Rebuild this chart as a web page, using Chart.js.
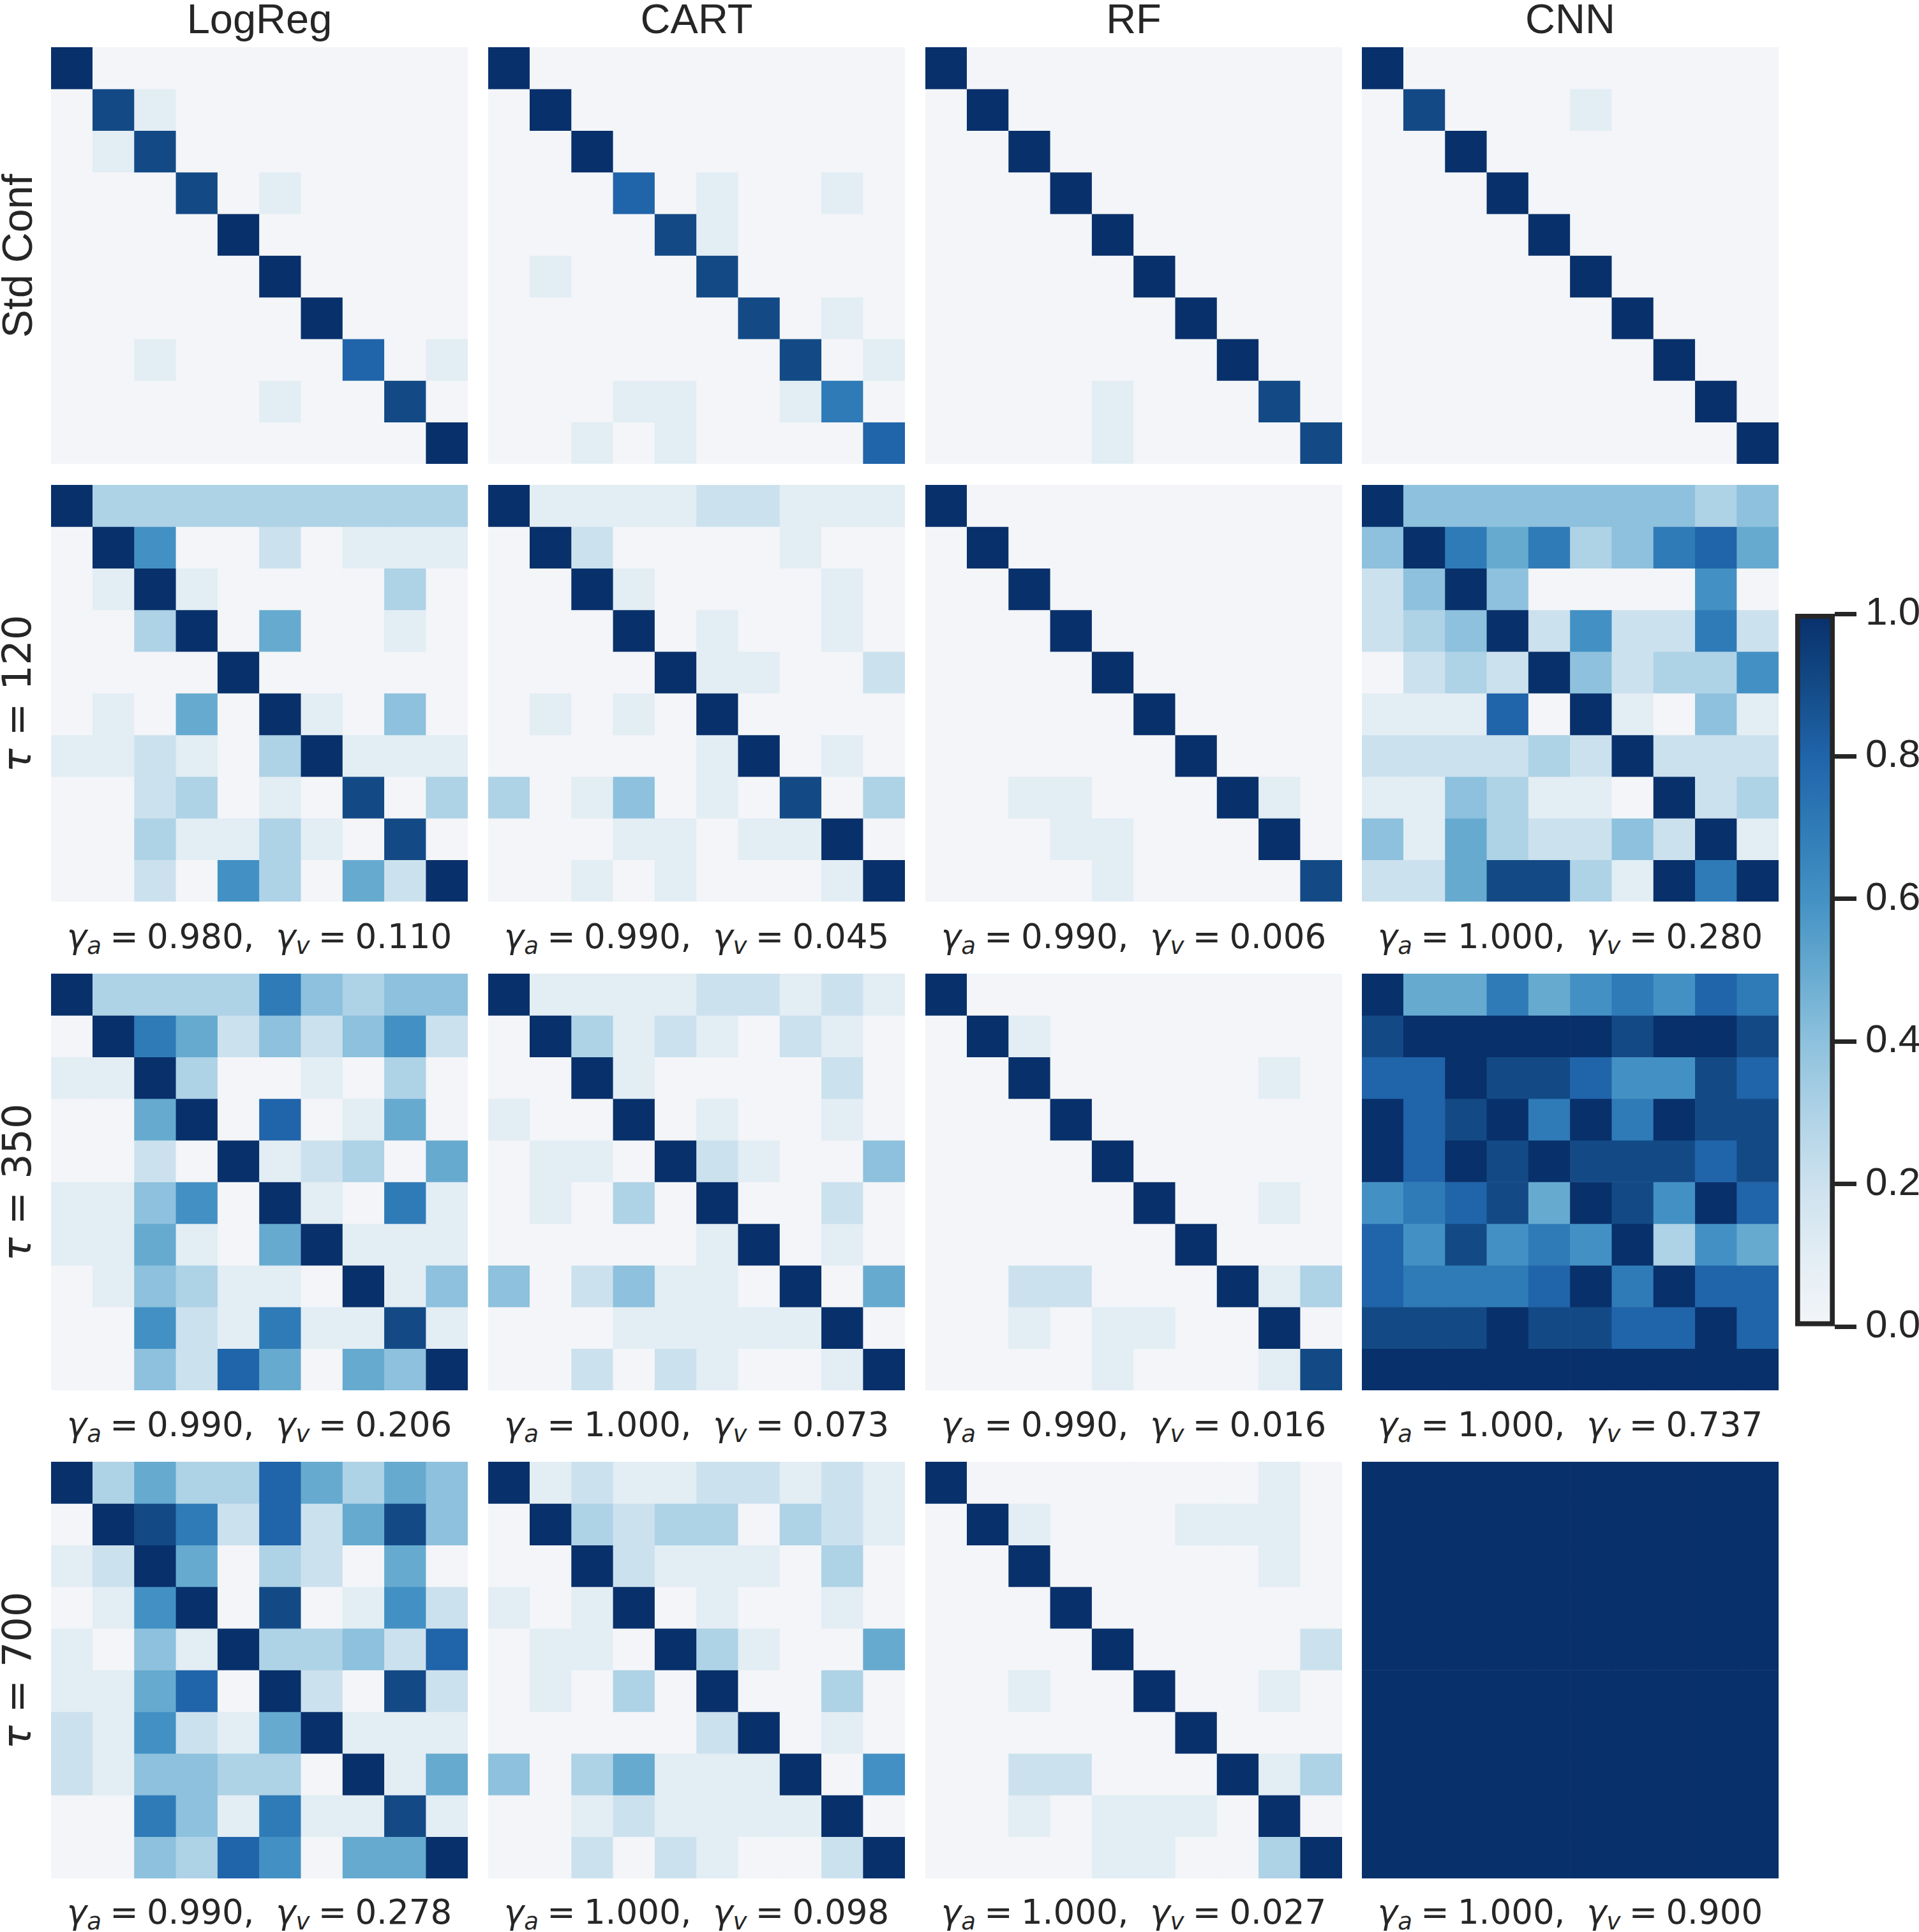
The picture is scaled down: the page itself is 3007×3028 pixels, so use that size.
<!DOCTYPE html>
<html><head><meta charset="utf-8">
<script src="https://cdn.jsdelivr.net/npm/chart.js@4.4.1/dist/chart.umd.min.js"></script>
<style>
html,body{margin:0;padding:0;background:#fff;}
#root{position:relative;width:3007px;height:3028px;overflow:hidden;background:#fff;}
canvas{position:absolute;display:block;}
.ttl{position:absolute;font-family:'Liberation Sans',Arial,sans-serif;font-size:65px;line-height:65px;height:65px;color:#262626;text-align:center;white-space:nowrap;}
.rl{position:absolute;color:#262626;text-align:center;white-space:nowrap;transform:rotate(-90deg);transform-origin:50% 50%;}
.rl.std{font-family:'Liberation Sans',Arial,sans-serif;font-size:66px;line-height:66px;height:66px;}
.rl.tau{font-family:'DejaVu Sans',sans-serif;font-size:62px;line-height:66px;height:66px;}
.sub{position:absolute;font-family:'DejaVu Sans',sans-serif;font-size:53px;line-height:70px;height:70px;color:#262626;text-align:center;white-space:nowrap;}
.sub sub{font-size:70%;vertical-align:-0.25em;line-height:0;}
</style></head><body><div id="root"></div>
<script>
// ---------------- data ----------------
const MODELS = ['LogReg', 'CART', 'RF', 'CNN'];
const ROW_NAMES = ['Std Conf', '120', '350', '700'];   // row 0 plain label, others are tau values

const logreg_std = [
 [1,0,0,0,0,0,0,0,0,0],
 [0,.9,.1,0,0,0,0,0,0,0],
 [0,.1,.9,0,0,0,0,0,0,0],
 [0,0,0,.9,0,.1,0,0,0,0],
 [0,0,0,0,1,0,0,0,0,0],
 [0,0,0,0,0,1,0,0,0,0],
 [0,0,0,0,0,0,1,0,0,0],
 [0,0,.1,0,0,0,0,.8,0,.1],
 [0,0,0,0,0,.1,0,0,.9,0],
 [0,0,0,0,0,0,0,0,0,1]];
const cart_std = [
 [1,0,0,0,0,0,0,0,0,0],
 [0,1,0,0,0,0,0,0,0,0],
 [0,0,1,0,0,0,0,0,0,0],
 [0,0,0,.8,0,.1,0,0,.1,0],
 [0,0,0,0,.9,.1,0,0,0,0],
 [0,.1,0,0,0,.9,0,0,0,0],
 [0,0,0,0,0,0,.9,0,.1,0],
 [0,0,0,0,0,0,0,.9,0,.1],
 [0,0,0,.1,.1,0,0,.1,.7,0],
 [0,0,.1,0,.1,0,0,0,0,.8]];
const rf_std = [
 [1,0,0,0,0,0,0,0,0,0],
 [0,1,0,0,0,0,0,0,0,0],
 [0,0,1,0,0,0,0,0,0,0],
 [0,0,0,1,0,0,0,0,0,0],
 [0,0,0,0,1,0,0,0,0,0],
 [0,0,0,0,0,1,0,0,0,0],
 [0,0,0,0,0,0,1,0,0,0],
 [0,0,0,0,0,0,0,1,0,0],
 [0,0,0,0,.1,0,0,0,.9,0],
 [0,0,0,0,.1,0,0,0,0,.9]];
const cnn_std = [
 [1,0,0,0,0,0,0,0,0,0],
 [0,.9,0,0,0,.1,0,0,0,0],
 [0,0,1,0,0,0,0,0,0,0],
 [0,0,0,1,0,0,0,0,0,0],
 [0,0,0,0,1,0,0,0,0,0],
 [0,0,0,0,0,1,0,0,0,0],
 [0,0,0,0,0,0,1,0,0,0],
 [0,0,0,0,0,0,0,1,0,0],
 [0,0,0,0,0,0,0,0,1,0],
 [0,0,0,0,0,0,0,0,0,1]];

const logreg_120 = [
 [1,.3,.3,.3,.3,.3,.3,.3,.3,.3],
 [0,1,.6,0,0,.2,0,.1,.1,.1],
 [0,.1,1,.1,0,0,0,0,.3,0],
 [0,0,.3,1,0,.5,0,0,.1,0],
 [0,0,0,0,1,0,0,0,0,0],
 [0,.1,0,.5,0,1,.1,0,.4,0],
 [.1,.1,.2,.1,0,.3,1,.1,.1,.1],
 [0,0,.2,.3,0,.1,0,.9,0,.3],
 [0,0,.3,.1,.1,.3,.1,0,.9,0],
 [0,0,.2,0,.6,.3,0,.5,.2,1]];
const cart_120 = [
 [1,.1,.1,.1,.1,.2,.2,.1,.1,.1],
 [0,1,.2,0,0,0,0,.1,0,0],
 [0,0,1,.1,0,0,0,0,.1,0],
 [0,0,0,1,0,.1,0,0,.1,0],
 [0,0,0,0,1,.1,.1,0,0,.2],
 [0,.1,0,.1,0,1,0,0,0,0],
 [0,0,0,0,0,.1,1,0,.1,0],
 [.3,0,.1,.4,0,.1,0,.9,0,.3],
 [0,0,0,.1,.1,0,.1,.1,1,0],
 [0,0,.1,0,.1,0,0,0,.1,1]];
const rf_120 = [
 [1,0,0,0,0,0,0,0,0,0],
 [0,1,0,0,0,0,0,0,0,0],
 [0,0,1,0,0,0,0,0,0,0],
 [0,0,0,1,0,0,0,0,0,0],
 [0,0,0,0,1,0,0,0,0,0],
 [0,0,0,0,0,1,0,0,0,0],
 [0,0,0,0,0,0,1,0,0,0],
 [0,0,.1,.1,0,0,0,1,.1,0],
 [0,0,0,.1,.1,0,0,0,1,0],
 [0,0,0,0,.1,0,0,0,0,.9]];
const cnn_120 = [
 [1,.4,.4,.4,.4,.4,.4,.4,.3,.4],
 [.4,1,.7,.5,.7,.3,.4,.7,.8,.5],
 [.2,.4,1,.4,0,0,0,0,.6,0],
 [.2,.3,.4,1,.2,.6,.2,.2,.7,.2],
 [0,.2,.3,.2,1,.4,.2,.3,.3,.6],
 [.1,.1,.1,.8,0,1,.1,0,.4,.1],
 [.2,.2,.2,.2,.3,.2,1,.2,.2,.2],
 [.1,.1,.4,.3,.1,.1,0,1,.2,.3],
 [.4,.1,.5,.3,.2,.2,.4,.2,1,.1],
 [.2,.2,.5,.9,.9,.3,.1,1,.7,1]];

const logreg_350 = [
 [1,.3,.3,.3,.3,.7,.4,.3,.4,.4],
 [0,1,.7,.5,.2,.4,.2,.4,.6,.2],
 [.1,.1,1,.3,0,0,.1,0,.3,0],
 [0,0,.5,1,0,.8,0,.1,.5,0],
 [0,0,.2,0,1,.1,.2,.3,0,.5],
 [.1,.1,.4,.6,0,1,.1,0,.7,.1],
 [.1,.1,.5,.1,0,.5,1,.1,.1,.1],
 [0,.1,.4,.3,.1,.1,0,1,.1,.4],
 [0,0,.6,.2,.1,.7,.1,.1,.9,.1],
 [0,0,.4,.2,.8,.5,0,.5,.4,1]];
const cart_350 = [
 [1,.1,.1,.1,.1,.2,.2,.1,.2,.1],
 [0,1,.3,.1,.2,.1,0,.2,.1,0],
 [0,0,1,.1,0,0,0,0,.2,0],
 [.1,0,0,1,0,.1,0,0,.1,0],
 [0,.1,.1,0,1,.2,.1,0,0,.4],
 [0,.1,0,.3,0,1,0,0,.2,0],
 [0,0,0,0,0,.1,1,0,.1,0],
 [.4,0,.2,.4,.1,.1,0,1,0,.5],
 [0,0,0,.1,.1,.1,.1,.1,1,0],
 [0,0,.2,0,.2,.1,0,0,.1,1]];
const rf_350 = [
 [1,0,0,0,0,0,0,0,0,0],
 [0,1,.1,0,0,0,0,0,0,0],
 [0,0,1,0,0,0,0,0,.1,0],
 [0,0,0,1,0,0,0,0,0,0],
 [0,0,0,0,1,0,0,0,0,0],
 [0,0,0,0,0,1,0,0,.1,0],
 [0,0,0,0,0,0,1,0,0,0],
 [0,0,.2,.2,0,0,0,1,.1,.3],
 [0,0,.1,0,.1,.1,0,0,1,0],
 [0,0,0,0,.1,0,0,0,.1,.9]];
const cnn_350 = [
 [1,.5,.5,.7,.5,.6,.7,.6,.8,.7],
 [.9,1,1,1,1,1,.9,1,1,.9],
 [.8,.8,1,.9,.9,.8,.6,.6,.9,.8],
 [1,.8,.9,1,.7,1,.7,1,.9,.9],
 [1,.8,1,.9,1,.9,.9,.9,.8,.9],
 [.6,.7,.8,.9,.5,1,.9,.6,1,.8],
 [.8,.6,.9,.6,.7,.6,1,.3,.6,.5],
 [.8,.7,.7,.7,.8,1,.7,1,.8,.8],
 [.9,.9,.9,1,.9,.9,.8,.8,1,.8],
 [1,1,1,1,1,1,1,1,1,1]];

const logreg_700 = [
 [1,.3,.5,.3,.3,.8,.5,.3,.5,.4],
 [0,1,.9,.7,.2,.8,.2,.5,.9,.4],
 [.1,.2,1,.5,0,.3,.2,0,.5,0],
 [0,.1,.6,1,0,.9,0,.1,.6,.2],
 [.1,0,.4,.1,1,.3,.3,.4,.2,.8],
 [.1,.1,.5,.8,0,1,.2,0,.9,.2],
 [.2,.1,.6,.2,.1,.5,1,.1,.1,.1],
 [.2,.1,.4,.4,.3,.3,0,1,.1,.5],
 [0,0,.7,.4,.1,.7,.1,.1,.9,.1],
 [0,0,.4,.3,.8,.6,0,.5,.5,1]];
const cart_700 = [
 [1,.1,.2,.1,.1,.2,.2,.1,.2,.1],
 [0,1,.3,.2,.3,.3,0,.3,.2,.1],
 [0,0,1,.2,.1,.1,.1,0,.3,0],
 [.1,0,.1,1,0,.1,0,0,.1,0],
 [0,.1,.1,0,1,.3,.1,0,0,.5],
 [0,.1,0,.3,0,1,0,0,.3,0],
 [0,0,0,0,0,.2,1,0,.1,0],
 [.4,0,.3,.5,.1,.1,.1,1,0,.6],
 [0,0,.1,.2,.1,.1,.1,.1,1,0],
 [0,0,.2,0,.2,.1,0,0,.2,1]];
const rf_700 = [
 [1,0,0,0,0,0,0,0,.1,0],
 [0,1,.1,0,0,0,.1,.1,.1,0],
 [0,0,1,0,0,0,0,0,.1,0],
 [0,0,0,1,0,0,0,0,0,0],
 [0,0,0,0,1,0,0,0,0,.2],
 [0,0,.1,0,0,1,0,0,.1,0],
 [0,0,0,0,0,0,1,0,0,0],
 [0,0,.2,.2,0,0,0,1,.1,.3],
 [0,0,.1,0,.1,.1,.1,0,1,0],
 [0,0,0,0,.1,.1,0,0,.3,1]];
const cnn_700 = [
 [1,1,1,1,1,1,1,1,1,1],
 [1,1,1,1,1,1,1,1,1,1],
 [1,1,1,1,1,1,1,1,1,1],
 [1,1,1,1,1,1,1,1,1,1],
 [1,1,1,1,1,1,1,1,1,1],
 [1,1,1,1,1,1,1,1,1,1],
 [1,1,1,1,1,1,1,1,1,1],
 [1,1,1,1,1,1,1,1,1,1],
 [1,1,1,1,1,1,1,1,1,1],
 [1,1,1,1,1,1,1,1,1,1]];

// gamma_a / gamma_v per tau row (LogReg, CART, RF, CNN)
const gammaA_120 = [0.980, 0.990, 0.990, 1.000];
const gammaV_120 = [0.110, 0.045, 0.006, 0.280];
const gammaA_350 = [0.990, 1.000, 0.990, 1.000];
const gammaV_350 = [0.206, 0.073, 0.016, 0.737];
const gammaA_700 = [0.990, 1.000, 1.000, 1.000];
const gammaV_700 = [0.278, 0.098, 0.027, 0.900];

const COLORBAR_TICKS = [0, 0.2, 0.4, 0.6, 0.8, 1.0];

// ---------------- colormap ----------------
const CMAP = ['#f3f5f8','#e2edf4','#cce1ee','#aed2e6','#8dc1dd','#66aad0','#4391c4','#2f7bb7','#2064aa','#134a86','#08306b'];
function hex2rgb(h){return [parseInt(h.slice(1,3),16),parseInt(h.slice(3,5),16),parseInt(h.slice(5,7),16)];}
function colorFor(v){
  v = Math.max(0, Math.min(1, v));
  const t = v * (CMAP.length - 1);
  const i = Math.min(CMAP.length - 2, Math.floor(t + 1e-9));
  const f = t - i;
  const a = hex2rgb(CMAP[i]), b = hex2rgb(CMAP[i+1]);
  const c = a.map((x,k)=>Math.round(x + (b[k]-x)*f));
  return 'rgb(' + c.join(',') + ')';
}

// ---------------- layout ----------------
const PANEL_X = [80, 765, 1450, 2134];
const PANEL_Y = [74, 760, 1526, 2291];
const PANEL = 653;

const MATRICES = [
  [logreg_std, cart_std, rf_std, cnn_std],
  [logreg_120, cart_120, rf_120, cnn_120],
  [logreg_350, cart_350, rf_350, cnn_350],
  [logreg_700, cart_700, rf_700, cnn_700]];
const GAMMAS = [null, [gammaA_120, gammaV_120], [gammaA_350, gammaV_350], [gammaA_700, gammaV_700]];

const root = document.getElementById('root');

function addCanvas(x, y, w, h){
  const c = document.createElement('canvas');
  c.width = w; c.height = h;
  c.style.left = x + 'px'; c.style.top = y + 'px';
  c.style.width = w + 'px'; c.style.height = h + 'px';
  root.appendChild(c);
  return c;
}

function heatmap(canvas, matrix){
  const labels = matrix[0].map((_, c) => String(c));
  const datasets = matrix.map((row, r) => ({
    data: row.map(() => [r, r + 1]),
    backgroundColor: row.map(colorFor),
    borderWidth: 0,
    barPercentage: 1,
    categoryPercentage: 1,
    grouped: false
  }));
  return new Chart(canvas, {
    type: 'bar',
    data: { labels, datasets },
    options: {
      responsive: false, animation: false, devicePixelRatio: 1,
      layout: { padding: 0 },
      plugins: { legend: { display: false }, tooltip: { enabled: false } },
      scales: {
        x: { display: false },
        y: { display: false, min: 0, max: matrix.length, reverse: true }
      }
    }
  });
}

for (let r = 0; r < 4; r++) {
  for (let c = 0; c < 4; c++) {
    const cv = addCanvas(PANEL_X[c], PANEL_Y[r], PANEL, PANEL);
    heatmap(cv, MATRICES[r][c]);
  }
}

// column titles
MODELS.forEach((m, c) => {
  const d = document.createElement('div');
  d.className = 'ttl';
  d.textContent = m;
  d.style.left = (PANEL_X[c] - 50) + 'px';
  d.style.width = (PANEL + 100) + 'px';
  d.style.top = '-3px';
  root.appendChild(d);
});

// row labels
ROW_NAMES.forEach((name, r) => {
  const d = document.createElement('div');
  const h = 66;
  const cx = 26, cy = PANEL_Y[r] + PANEL / 2;
  d.style.left = (cx - PANEL / 2) + 'px';
  d.style.top = (cy - h / 2) + 'px';
  d.style.width = PANEL + 'px';
  if (r === 0) {
    d.className = 'rl std';
    d.textContent = name;
  } else {
    d.className = 'rl tau';
    d.innerHTML = '<i>\u03c4</i> = ' + name;
  }
  root.appendChild(d);
});

// subtitles
const SUB_CY = [null, 1468, 2233, 2997];
const EQ = '\u2005=\u2005';
for (let r = 1; r < 4; r++) {
  const [ga, gv] = GAMMAS[r];
  for (let c = 0; c < 4; c++) {
    const d = document.createElement('div');
    d.className = 'sub';
    d.style.left = (PANEL_X[c] - 60) + 'px';
    d.style.width = (PANEL + 120) + 'px';
    d.style.top = (SUB_CY[r] - 35) + 'px';
    d.innerHTML = '<i>\u03b3</i><sub><i>a</i></sub>' + EQ + ga[c].toFixed(3) +
      ',&nbsp;&nbsp;<i>\u03b3</i><sub><i>v</i></sub>' + EQ + gv[c].toFixed(3);
    root.appendChild(d);
  }
}

// colorbar
const CB_PAD = 54;
const CB_AREA_TOP = 962, CB_AREA_H = 1117;
const CB_LEFT = 2809, CB_W = 3007 - 2809;
const cbCanvas = addCanvas(CB_LEFT, CB_AREA_TOP - CB_PAD, CB_W, CB_AREA_H + 2 * CB_PAD);
new Chart(cbCanvas, {
  type: 'bar',
  data: {
    labels: [''],
    datasets: [{
      data: [[COLORBAR_TICKS[0], COLORBAR_TICKS[COLORBAR_TICKS.length - 1]]],
      backgroundColor: (ctx) => {
        const ch = ctx.chart; const a = ch.chartArea;
        if (!a) return CMAP[5];
        const g = ch.ctx.createLinearGradient(0, a.bottom, 0, a.top);
        CMAP.forEach((col, i) => g.addColorStop(i / (CMAP.length - 1), col));
        return g;
      },
      borderColor: '#262626',
      borderWidth: 8,
      borderSkipped: false,
      barPercentage: 1,
      categoryPercentage: 1
    }]
  },
  options: {
    responsive: false, animation: false, devicePixelRatio: 1,
    layout: { padding: { top: CB_PAD, bottom: CB_PAD, left: 4, right: 0 } },
    plugins: { legend: { display: false }, tooltip: { enabled: false } },
    scales: {
      x: { display: false },
      y: {
        position: 'right', min: 0, max: 1,
        afterBuildTicks: (s) => { s.ticks = COLORBAR_TICKS.map(v => ({ value: v })); },
        afterFit: (s) => { s.width = 132; },
        ticks: {
          callback: (v) => Number(v).toFixed(1),
          font: { family: "'Liberation Sans', Arial, sans-serif", size: 62 },
          color: '#262626', padding: 14
        },
        grid: { drawOnChartArea: false, drawTicks: true, tickLength: 34, tickWidth: 7, tickColor: '#262626' },
        border: { display: false }
      }
    }
  }
});
</script></body></html>
